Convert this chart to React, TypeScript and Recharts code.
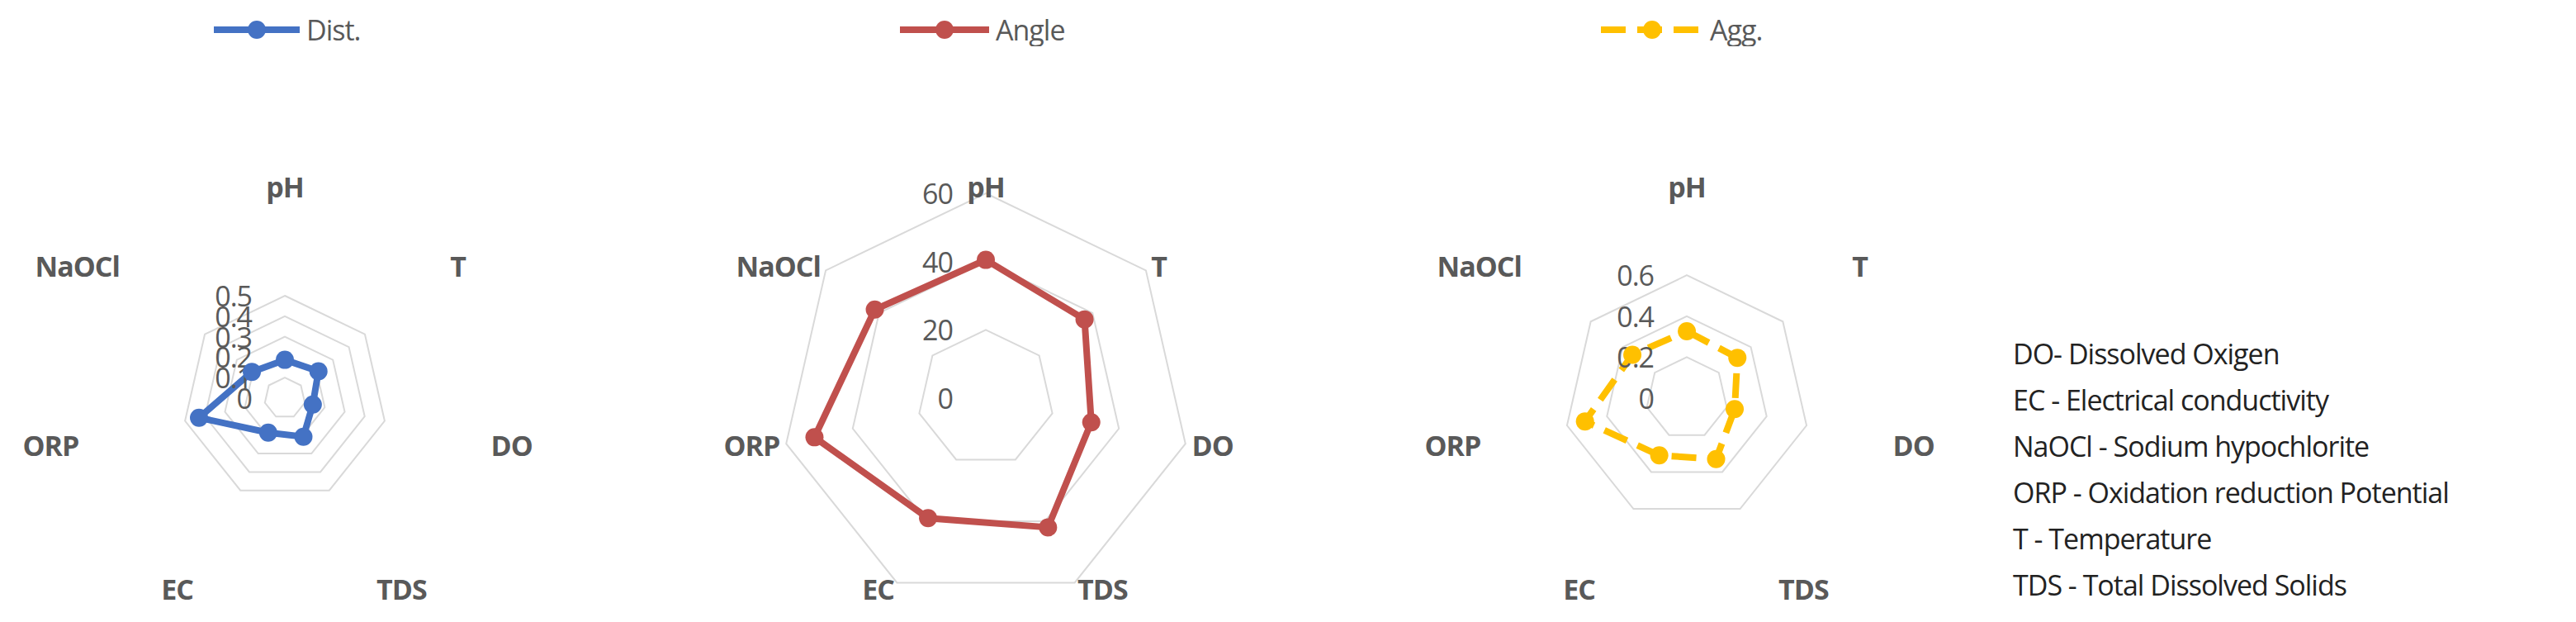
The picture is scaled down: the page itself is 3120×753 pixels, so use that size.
import React from 'react';
import { RadarChart, Radar, PolarGrid, PolarAngleAxis, PolarRadiusAxis, Legend } from 'recharts';

const axes = ['pH', 'T', 'DO', 'TDS', 'EC', 'ORP', 'NaOCl'];
const distValues = [0.187, 0.21, 0.14, 0.209, 0.187, 0.43, 0.206];
const angleValues = [40.5, 37, 31.7, 42, 39, 51.5, 41.6];
const aggValues = [0.327, 0.316, 0.24, 0.33, 0.31, 0.51, 0.34];
const distTicks = [0, 0.1, 0.2, 0.3, 0.4, 0.5];
const angleTicks = [0, 20, 40, 60];
const aggTicks = [0, 0.2, 0.4, 0.6];
const notes = [
  'DO- Dissolved Oxigen',
  'EC - Electrical conductivity',
  'NaOCl - Sodium hypochlorite',
  'ORP - Oxidation reduction Potential',
  'T - Temperature',
  'TDS - Total Dissolved Solids',
];

const FONT = "'Open Sans', 'Liberation Sans', sans-serif";
const GREY = '#595959';
const CY = 482;
const R = 248;

const angleTick = (props: any) => {
  const { x, y, payload, textAnchor } = props;
  return (
    <text x={x} y={y} textAnchor={textAnchor} dominantBaseline="central"
      fontFamily={FONT} fontSize={34} fontWeight={700} fill={GREY} letterSpacing={-1}>
      {payload.value}
    </text>
  );
};

const radiusTick = (props: any) => {
  const { x, y, payload } = props;
  return (
    <text x={x - 40} y={y} textAnchor="end" dominantBaseline="central"
      fontFamily={FONT} fontSize={34} fill={GREY} letterSpacing={-1}>
      {payload.value}
    </text>
  );
};

type PanelProps = {
  name: string;
  values: number[];
  ticks: number[];
  color: string;
  dash?: string;
  left: number;
  cx: number;
  legendLeft: number;
  lineLen: number;
};

function Panel({ name, values, ticks, color, dash, left, cx, legendLeft, lineLen }: PanelProps) {
  const data = axes.map((a, i) => ({ axis: a, value: values[i] }));
  const legend = () => (
    <svg width={lineLen + 200} height={40}>
      <line x1={0} y1={20} x2={lineLen} y2={20} stroke={color} strokeWidth={8} strokeDasharray={dash} />
      <circle cx={lineLen / 2} cy={20} r={11} fill={color} />
      <text x={lineLen + 8} y={20} dominantBaseline="central" fontFamily={FONT} fontSize={34}
        fill={GREY} letterSpacing={-1}>{name}</text>
    </svg>
  );
  const dot = (p: any) => <circle key={p.index} cx={p.cx} cy={p.cy} r={11} fill={color} />;
  return (
    <div style={{ position: 'absolute', left, top: 0 }}>
      <RadarChart width={760} height={753} data={data} cx={cx} cy={CY} outerRadius={R}>
        <PolarGrid gridType="polygon" radialLines={false} stroke="#d9d9d9" strokeWidth={2} />
        <PolarAngleAxis dataKey="axis" tick={angleTick} tickLine={false} axisLine={false} />
        <PolarRadiusAxis angle={90} type="number" domain={[ticks[0], ticks[ticks.length - 1]]}
          allowDataOverflow ticks={ticks as any} tickCount={ticks.length}
          tick={radiusTick} axisLine={false} tickLine={false} />
        <Radar name={name} dataKey="value" stroke={color} strokeWidth={8} strokeDasharray={dash}
          fill="none" fillOpacity={0} dot={dot} isAnimationActive={false} />
        <Legend content={legend} wrapperStyle={{ position: 'absolute', top: 16, left: legendLeft - left, width: 'auto' }} />
      </RadarChart>
    </div>
  );
}

export default function App() {
  return (
    <div style={{ position: 'relative', width: 3120, height: 753, margin: -8, background: '#fff', overflow: 'hidden' }}>
      <Panel name="Dist." values={distValues} ticks={distTicks} color="#4472c4"
        left={0} cx={345} legendLeft={259} lineLen={104} />
      <Panel name="Angle" values={angleValues} ticks={angleTicks} color="#c0504d"
        left={844} cx={350} legendLeft={1090} lineLen={108} />
      <Panel name="Agg." values={aggValues} ticks={aggTicks} color="#ffc000" dash="30 14"
        left={1693} cx={350} legendLeft={1939} lineLen={124} />
      <div style={{ position: 'absolute', left: 2438, top: 400, fontFamily: FONT, fontSize: 34,
        color: '#222', lineHeight: '56px', letterSpacing: -1, whiteSpace: 'nowrap' }}>
        {notes.map(n => <div key={n}>{n}</div>)}
      </div>
    </div>
  );
}
